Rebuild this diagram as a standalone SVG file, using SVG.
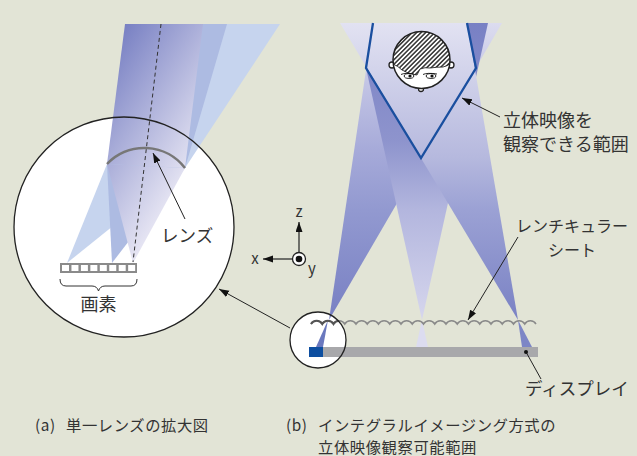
<svg xmlns="http://www.w3.org/2000/svg" width="637" height="456" viewBox="0 0 637 456">
  <defs>
    <style>
      text { font-family: "Noto Sans CJK JP", "Noto Sans", sans-serif; fill: #333; }
      .lbl { font-size: 18px; }
      .cap { font-size: 15.3px; letter-spacing: 0.6px; }
      .ax { font-size: 15px; }
      .lead { stroke: #222; stroke-width: 1; fill: none; }
      .ring { fill: #fff; stroke: #222; stroke-width: 1.3; }
      .ringline { fill: none; stroke: #222; stroke-width: 1.3; }
    </style>
    <marker id="arr" markerUnits="userSpaceOnUse" markerWidth="11" markerHeight="8" refX="10" refY="3.5" orient="auto">
      <path d="M0,0 L10,3.5 L0,7 z" fill="#111"/>
    </marker>
    <!-- beam through the lens from the on-axis pixel -->
    <linearGradient id="gA" gradientUnits="userSpaceOnUse" x1="125" y1="24" x2="239" y2="97">
      <stop offset="0" stop-color="#7880c3"/>
      <stop offset="1" stop-color="#e6e5f3"/>
    </linearGradient>
    <!-- display beams: left, centre, right -->
    <linearGradient id="gL" gradientUnits="userSpaceOnUse" x1="0" y1="320" x2="0" y2="23">
      <stop offset="0" stop-color="#7880c3"/>
      <stop offset="0.37" stop-color="#9299d0"/>
      <stop offset="0.57" stop-color="#a6aad9"/>
      <stop offset="1" stop-color="#dcdcef"/>
    </linearGradient>
    <linearGradient id="gC" gradientUnits="userSpaceOnUse" x1="0" y1="320" x2="0" y2="23">
      <stop offset="0" stop-color="#d6d6ed"/>
      <stop offset="0.37" stop-color="#b3b6de"/>
      <stop offset="0.6" stop-color="#8e94cd"/>
      <stop offset="1" stop-color="#7880c4"/>
    </linearGradient>
    <linearGradient id="gR" gradientUnits="userSpaceOnUse" x1="0" y1="320" x2="0" y2="23">
      <stop offset="0" stop-color="#7a82c4"/>
      <stop offset="0.37" stop-color="#9ba1d4"/>
      <stop offset="0.55" stop-color="#b6b9de"/>
      <stop offset="1" stop-color="#e2e2f2"/>
    </linearGradient>
    <pattern id="hatch" patternUnits="userSpaceOnUse" width="3.2" height="10" patternTransform="rotate(45)">
      <rect width="3.2" height="10" fill="#fff"/>
      <line x1="0.8" y1="0" x2="0.8" y2="10" stroke="#111" stroke-width="1.3"/>
    </pattern>
    <clipPath id="headClip"><circle cx="421.5" cy="60" r="28.5"/></clipPath>
    <clipPath id="smallClip"><circle cx="318" cy="340" r="28"/></clipPath>
    <path id="sheetPath" d="M311,324 a6.5,6.5 0 0 1 11.25,0 a6.5,6.5 0 0 1 11.25,0 a6.5,6.5 0 0 1 11.25,0 a6.5,6.5 0 0 1 11.25,0 a6.5,6.5 0 0 1 11.25,0 a6.5,6.5 0 0 1 11.25,0 a6.5,6.5 0 0 1 11.25,0 a6.5,6.5 0 0 1 11.25,0 a6.5,6.5 0 0 1 11.25,0 a6.5,6.5 0 0 1 11.25,0 a6.5,6.5 0 0 1 11.25,0 a6.5,6.5 0 0 1 11.25,0 a6.5,6.5 0 0 1 11.25,0 a6.5,6.5 0 0 1 11.25,0 a6.5,6.5 0 0 1 11.25,0 a6.5,6.5 0 0 1 11.25,0 a6.5,6.5 0 0 1 11.25,0 a6.5,6.5 0 0 1 11.25,0 a6.5,6.5 0 0 1 11.25,0 a6.5,6.5 0 0 1 11.25,0"/>
  </defs>

  <rect width="637" height="456" fill="#e2e4d6"/>

  <!-- (a) magnified single lens -->
  <g id="lens-detail">
    <circle cx="124" cy="227" r="110" fill="#fff"/>
    <!-- outer pixel beam -->
    <polygon points="67,263 107,164 185,168" fill="#c6d4ee"/>
    <polygon points="107,164 185,168 280,24 206,24" fill="#c6d4ee"/>
    <!-- middle pixel beam -->
    <polygon points="112,263 107,164 185,168" fill="#adbbe2"/>
    <polygon points="107,164 185,168 227,24 148,24" fill="#adbbe2"/>
    <!-- on-axis pixel beam -->
    <polygon points="133,263 107,164 185,168" fill="url(#gA)"/>
    <polygon points="107,164 185,168 203,24 125,24" fill="url(#gA)"/>
    <circle cx="124" cy="227" r="110" class="ringline"/>
    <line x1="161" y1="24" x2="133" y2="262" stroke="#333" stroke-width="1" stroke-dasharray="4,3"/>
    <path d="M107,164 A51.3,51.3 0 0 1 185,168" fill="none" stroke="#777" stroke-width="2.5"/>
  </g>

  <g id="pixels">
    <rect x="60" y="263" width="77" height="10" fill="#8a8a8a"/>
    <rect x="62" y="265" width="7" height="6" fill="#fff"/>
    <rect x="71.45" y="265" width="7" height="6" fill="#fff"/>
    <rect x="80.9" y="265" width="7" height="6" fill="#fff"/>
    <rect x="90.35" y="265" width="7" height="6" fill="#fff"/>
    <rect x="99.8" y="265" width="7" height="6" fill="#fff"/>
    <rect x="109.25" y="265" width="7" height="6" fill="#fff"/>
    <rect x="118.7" y="265" width="7" height="6" fill="#fff"/>
    <rect x="128.15" y="265" width="7" height="6" fill="#fff"/>
    <path d="M60,279 Q60,286 66,286 H92 Q97,286 98.5,291 Q100,286 105,286 H131 Q137,286 137,279" fill="none" stroke="#333" stroke-width="1"/>
    <text class="lbl" x="98.5" y="311" text-anchor="middle">画素</text>
  </g>

  <g id="lens-label">
    <text x="161" y="242" font-size="17.5">レンズ</text>
  </g>

  <!-- axes -->
  <g id="axes">
    <line x1="299" y1="252.5" x2="299" y2="222" stroke="#222" stroke-width="1.2" marker-end="url(#arr)"/>
    <line x1="292.5" y1="259" x2="263" y2="259" stroke="#222" stroke-width="1.2" marker-end="url(#arr)"/>
    <circle cx="299" cy="259" r="6.5" fill="#fff" stroke="#222" stroke-width="1.3"/>
    <circle cx="299" cy="259" r="3.3" fill="#111"/>
    <text class="ax" x="299" y="217" text-anchor="middle">z</text>
    <text class="ax" x="255" y="264" text-anchor="middle">x</text>
    <text class="ax" x="312" y="274" text-anchor="middle">y</text>
  </g>

  <!-- (b) integral imaging viewing zone -->
  <g id="small-ring-fill">
    <circle cx="318" cy="340" r="28" fill="#fff"/>
  </g>

  <g id="beams">
    <polygon points="329,320 373,23 502,23" fill="url(#gL)"/>
    <polygon points="422,320 356,23 488,23" fill="url(#gC)"/>
    <polygon points="518,320 340,23 467,23" fill="url(#gR)"/>
    <polygon points="328,320 316,347 323,347" fill="#6a78be"/>
    <polygon points="422,320 416,347 428,347" fill="#dcdcf0"/>
    <polygon points="518,320 522,347 532,347" fill="#7d86c6"/>
  </g>

  <g id="viewing-zone">
    <polyline points="373,23 366,68 421,158 476,68 467,23" fill="none" stroke="#1a4f9f" stroke-width="2.3" stroke-linejoin="miter"/>
  </g>

  <g id="viewer">
    <circle cx="392" cy="65" r="3" class="ring" stroke-width="1.1"/>
    <circle cx="451" cy="65" r="3" class="ring" stroke-width="1.1"/>
    <circle cx="421" cy="89" r="2.5" class="ring" stroke-width="1.1"/>
    <circle cx="421.5" cy="60" r="28.5" fill="#fff"/>
    <path d="M388,64 L393,64 Q398,66 402,70 Q410,75 417,75 L420,69 Q425,67 430,68 Q437,67 443,67 Q448,66 455,62 L455,28 L388,28 Z" fill="url(#hatch)" clip-path="url(#headClip)"/>
    <path d="M393,64 Q398,66 402,70 Q410,75 417,75 L420,69 Q425,67 430,68 Q437,67 443,67 Q448,66 451,63" fill="none" stroke="#111" stroke-width="0.8" clip-path="url(#headClip)"/>
    <circle cx="421.5" cy="60" r="28.5" fill="none" stroke="#222" stroke-width="1.5"/>
    <ellipse cx="409" cy="76" rx="4.8" ry="2.4" fill="#fff" stroke="#111" stroke-width="0.9"/>
    <circle cx="410" cy="76" r="1.6" fill="#111"/>
    <path d="M401,74.5 Q405,72.5 414,74" fill="none" stroke="#111" stroke-width="0.9"/>
    <ellipse cx="431" cy="76" rx="4.8" ry="2.4" fill="#fff" stroke="#111" stroke-width="0.9"/>
    <circle cx="432" cy="76" r="1.6" fill="#111"/>
    <path d="M423,74.5 Q427,72.5 437,74" fill="none" stroke="#111" stroke-width="0.9"/>
  </g>

  <g id="lenticular-sheet">
    <use href="#sheetPath" fill="none" stroke="#8a8a8a" stroke-width="1.5"/>
    <use href="#sheetPath" fill="none" stroke="#555" stroke-width="2" clip-path="url(#smallClip)"/>
  </g>

  <g id="display">
    <rect x="309" y="347" width="229" height="10" fill="#a8a8ab"/>
    <rect x="309" y="347" width="14" height="10" fill="#0d4ea0"/>
  </g>

  <g id="small-ring">
    <circle cx="318" cy="340" r="28" class="ringline"/>
  </g>

  <g id="connectors">
    <line x1="290" y1="328" x2="219" y2="289" class="lead" marker-end="url(#arr)"/>
    <line x1="185" y1="219" x2="153" y2="153" class="lead" marker-end="url(#arr)"/>
    <line x1="500" y1="117" x2="462" y2="98" class="lead" marker-end="url(#arr)"/>
    <line x1="518" y1="237" x2="468" y2="320" class="lead" marker-end="url(#arr)"/>
    <line x1="526" y1="352" x2="541" y2="379" class="lead"/>
    <circle cx="526" cy="352" r="2" fill="#111"/>
  </g>

  <g id="labels">
    <text class="lbl" x="503" y="127">立体映像を</text>
    <text class="lbl" x="503" y="151">観察できる範囲</text>
    <text x="572" y="232" font-size="16" text-anchor="middle">レンチキュラー</text>
    <text x="572" y="256" font-size="16" text-anchor="middle">シート</text>
    <text x="525" y="395" font-size="17.5">ディスプレイ</text>
  </g>

  <g id="captions">
    <text class="cap" x="35" y="431">(a)</text>
    <text class="cap" x="66" y="431">単一レンズの拡大図</text>
    <text class="cap" x="286" y="431">(b)</text>
    <text class="cap" x="318" y="431">インテグラルイメージング方式の</text>
    <text class="cap" x="318" y="453">立体映像観察可能範囲</text>
  </g>
</svg>
